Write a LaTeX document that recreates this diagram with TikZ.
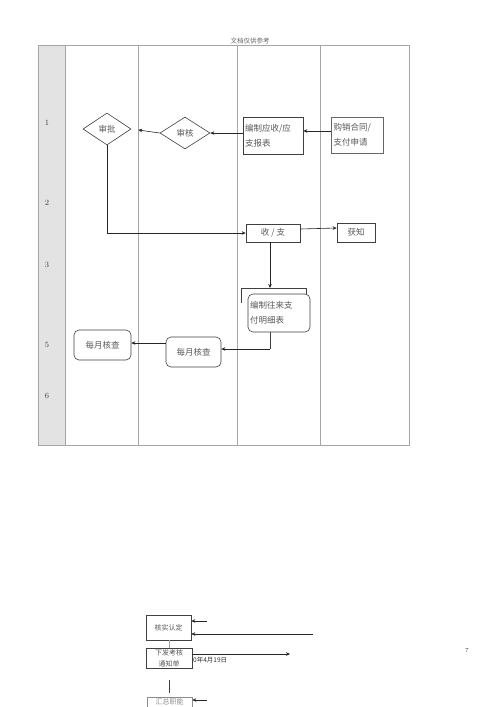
\documentclass[tikz,border=0pt]{standalone}
\usepackage{fontspec}
\newfontfamily\cjk{Noto Sans CJK SC}
\usetikzlibrary{arrows.meta,positioning,shapes.geometric}

\begin{document}
\begin{tikzpicture}[
    x=1pt, y=-1pt,
    arrow/.style={-{Stealth[length=4pt, width=3.5pt]}, semithick, black!85},
    link/.style={semithick, black!75},
    lane/.style={gray!70, thick},
    decision/.style={diamond, draw=black!75, semithick, aspect=1.5, inner sep=0pt,
        font=\cjk\fontsize{8.5}{12}\selectfont, text=black!65},
    stepbox/.style={rectangle, draw=black!75, semithick, align=left, inner sep=2pt,
        font=\cjk\fontsize{8.5}{15}\selectfont, text=black!65},
    roundbox/.style={stepbox, rounded corners=5pt, fill=white},
    smallbox/.style={stepbox, font=\cjk\fontsize{7}{11}\selectfont, align=center, inner sep=1pt}
]
\clip (0,0) rectangle (500,707);
\fill[white] (0,0) rectangle (500,707);

% Page header
\node[font=\cjk\fontsize{6.5}{8}\selectfont, text=black!60] (header) at (250,41) {文档仅供参考};

% Swim lanes
\fill[gray!22] (38,45) rectangle (65,445);
\draw[lane] (38,45) rectangle (409,445);
\draw[lane] (65,45) -- (65,445);
\foreach \x in {138,237,320} {
    \draw[lane] (\x,45) -- (\x,445);
}
\foreach \n/\y in {1/123, 2/203, 3/265, 5/345, 6/396} {
    \node[font=\fontsize{8}{10}\selectfont, text=black!75] (row\n) at (47,\y) {\n};
}

% Row 1
\node[decision, minimum width=48pt, minimum height=32pt] (shenpi) at (107,129) {审批};
\node[decision, minimum width=50pt, minimum height=32pt] (shenhe) at (185,133) {审核};
\node[stepbox, text width=56pt, minimum height=37pt] (baobiao) at (273,135.5) {编制应收/应\\支报表};
\node[stepbox, text width=48pt, minimum height=36pt, draw=black!60] (hetong) at (357.5,135) {购销合同/\\支付申请};

\draw[arrow] (hetong.west |- 0,131) -- (baobiao.east |- 0,131);
\draw[arrow] (baobiao.west |- shenhe.east) -- (shenhe.east);
\draw[arrow, shorten >=7pt] (shenhe.west) -- (shenpi.east);

% Row 3
\node[stepbox, align=center, minimum width=54pt, minimum height=18pt] (shouzhi) at (273,233) {收 / 支};
\node[stepbox, align=center, minimum width=38pt, minimum height=19pt] (huozhi) at (356,232.5) {获知};

\draw[arrow] (shenpi.south) |- (shouzhi.west);
\draw[arrow] ([yshift=4pt]shouzhi.east) -- (huozhi.west |- 0,228);

% Detail table
\draw[link] (241,303) -- (241,288) -- (306,288) -- (306,303);
\coordinate (backtop) at (270,288);
\node[roundbox, text width=58pt, minimum height=38pt] (mingxi) at (279,313) {编制往来支\\付明细表};
\draw[arrow] (shouzhi.south -| backtop) -- (backtop);

% Row 5
\node[roundbox, align=center, minimum width=55pt, minimum height=30pt] (hecha2) at (193.5,352) {每月核查};
\node[roundbox, align=center, minimum width=57pt, minimum height=30pt] (hecha1) at (102.5,345) {每月核查};

\coordinate (turn) at (270,349);
\draw[link] (mingxi.south -| turn) -- (turn);
\draw[arrow] (turn) -- (hecha2.east |- turn);
\draw[arrow] (hecha2.west |- 0,343) -- (hecha1.east |- 0,343);

% Lower fragment
\node[stepbox, align=center, minimum width=45pt, minimum height=25pt, font=\cjk\fontsize{7}{11}\selectfont] (heshi) at (168.5,627.5) {核实认定};
\node[smallbox, minimum width=46pt, minimum height=20pt] (xiafa) at (169,658) {下发考核\\通知单};
\node[smallbox, minimum width=45pt, minimum height=20pt, draw=black!45, text=black!45] (huizong) at (169.5,707) {汇总职能\\部门考核};

\coordinate (in1) at (207,621);
\coordinate (in2) at (313,634);
\coordinate (out1) at (290,654);
\coordinate (in3) at (207,700);
\coordinate (stubtop) at (169,680);
\coordinate (stubbot) at (169,693);

\draw[arrow] (in1) -- (heshi.east |- in1);
\draw[arrow] (in2) -- (heshi.east |- in2);
\draw[link, gray!70] (heshi.south -| xiafa.north) -- (xiafa.north);
\draw[arrow] (xiafa.east |- out1) -- (out1);
\draw[link] (stubtop) -- (stubbot);
\draw[arrow] (in3) -- (huizong.east |- in3);
\node[anchor=west, inner sep=0pt, font=\cjk\fontsize{6.5}{8}\selectfont, text=black!80] (datum) at (193,660) {0年4月19日};

% Page number
\node[font=\fontsize{6}{8}\selectfont, text=black!70] (pagenum) at (467,651) {7};

\end{tikzpicture}
\end{document}
